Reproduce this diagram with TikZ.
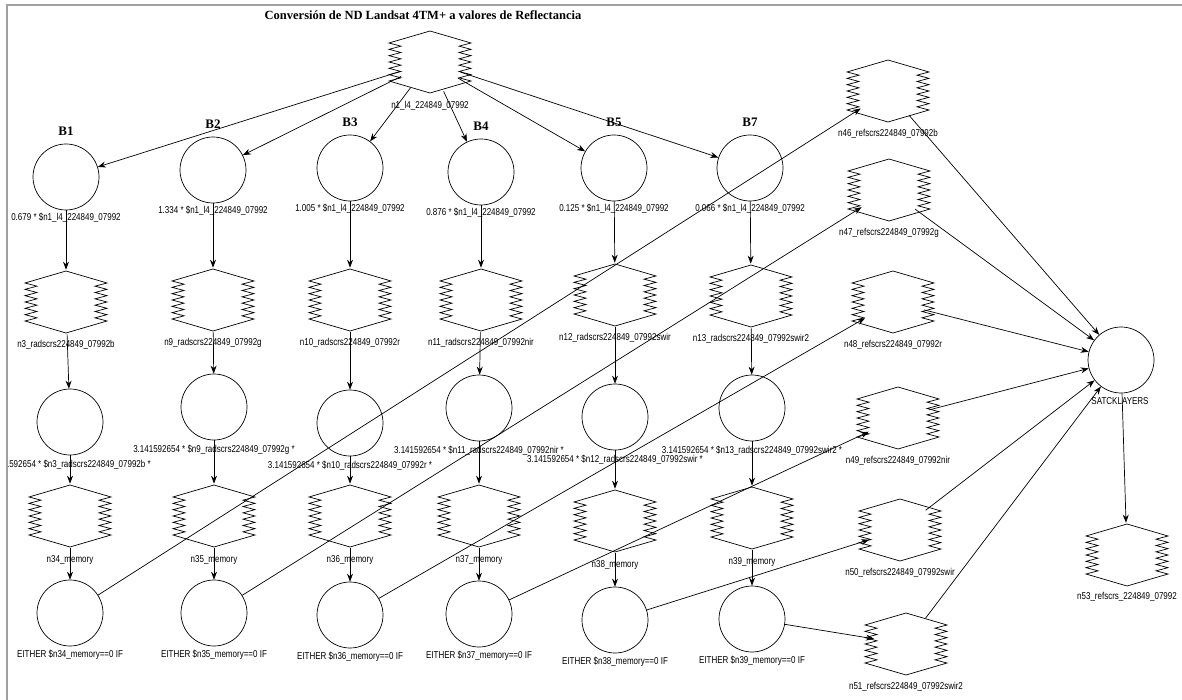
\documentclass[tikz,border=0pt]{standalone}
\usepackage{fontspec}
\setmainfont{Liberation Serif}
\newfontfamily\lblfont[FakeStretch=0.8]{Liberation Sans}
\usetikzlibrary{arrows.meta}
\definecolor{FrameGray}{HTML}{A0A0A0}

\begin{document}
\begin{tikzpicture}[x=1pt,y=-1pt,line width=0.7pt,
  proc/.style={circle,draw,minimum size=66pt,inner sep=0pt},
  hexa/.style={circle,minimum size=64pt,inner sep=0pt,
    append after command={\pgfextra{\draw[shift={(\tikzlastnode.center)}] (0,-31) -- (-41,-19)
      \foreach \k in {1,...,12}{ -- ({-41+12*mod(\k,2)},{-19+\k*38/12}) } -- (0,31) -- (41,19)
      \foreach \k in {1,...,12}{ -- ({41-12*mod(\k,2)},{19-\k*38/12}) } -- cycle;}}},
  lbl/.style={font=\lblfont\fontsize{10}{11}\selectfont,inner sep=0pt},
  band/.style={font=\bfseries\fontsize{13}{14}\selectfont,inner sep=0pt},
  conn/.style={-{Stealth[length=8pt,width=6pt]}}]
\useasboundingbox (0,0) rectangle (1182,700);
\draw[FrameGray,line width=2pt] (7,700)--(7,5)--(1182,5);
\begin{scope}
\clip (8,6) rectangle (1182,700);
\node[font=\bfseries\fontsize{12.5}{14}\selectfont,inner sep=0pt] (title) at (423,15) {Conversión de ND Landsat 4TM+ a valores de Reflectancia};
\node[hexa] (n1) at (430,62) {};
\node[lbl] (n1l) at (430,106) {n1\_l4\_224849\_07992};
\foreach \i/\x/\y/\fac/\bn in {1/66/177/0.679/B1,2/213/170/1.334/B2,3/350/168/1.005/B3,4/481/172/0.876/B4,5/614/168/0.125/B5,6/750/168/0.066/B7}{
  \node[proc] (b\i) at (\x,\y) {};
  \node[band] (bt\i) at (\x,\y-46) {\bn};
  \node[lbl] (bl\i) at (\x,\y+41) {\fac\ * \$n1\_l4\_224849\_07992};
  \draw[conn] (n1) -- (b\i);}
\foreach \i/\x/\xx/\yr/\yp/\ym/\ye/\rn/\m in {1/66/70/302/422/516/613/n3\_radscrs224849\_07992b/34,
  2/213/214/300/407/516/613/n9\_radscrs224849\_07992g/35,
  3/350/350/300/423/516/615/n10\_radscrs224849\_07992r/36,
  4/481/479/300/408/516/614/n11\_radscrs224849\_07992nir/37,
  5/615/615/295/417/521/620/n12\_radscrs224849\_07992swir/38,
  6/751/752/296/408/518/619/n13\_radscrs224849\_07992swir2/39}{
  \node[hexa] (rad\i) at (\x,\yr) {};
  \node[lbl] (radl\i) at (\x,\yr+43) {\rn};
  \node[proc] (pi\i) at (\xx,\yp) {};
  \node[lbl] (pil\i) at (\xx,\yp+43) {3.141592654 * \$\rn\ *};
  \node[hexa] (mem\i) at (\xx,\ym) {};
  \node[lbl] (meml\i) at (\xx,\ym+44) {n\m\_memory};
  \node[proc] (eit\i) at (\xx,\ye) {};
  \node[lbl] (eitl\i) at (\xx,\ye+42) {EITHER \$n\m\_memory==0 IF};
  \draw[conn] (b\i) -- (rad\i);
  \draw[conn] (rad\i) -- (pi\i);
  \draw[conn] (pi\i) -- (mem\i);
  \draw[conn] (mem\i) -- (eit\i);}
\foreach \i/\x/\y/\s in {1/888/91/b,2/889/190/g,3/893/302/r,4/898/418/nir,5/900/530/swir,6/906/644/swir2}{
  \pgfmathtruncatemacro\rr{45+\i}
  \node[hexa] (ref\i) at (\x,\y) {};
  \node[lbl] (refl\i) at (\x,\y+43) {n\rr\_refscrs224849\_07992\s};
  \draw[conn] (eit\i) -- (ref\i);}
\node[proc] (sat) at (1121,360) {};
\node[lbl] (satl) at (1120,401) {SATCKLAYERS};
\node[hexa] (n53) at (1127,555) {};
\node[lbl] (n53l) at (1127,597) {n53\_refscrs\_224849\_07992};
\foreach \i in {1,...,6}{\draw[conn] (ref\i) -- (sat);}
\draw[conn] (sat) -- (n53);
\end{scope}
\end{tikzpicture}
\end{document}
